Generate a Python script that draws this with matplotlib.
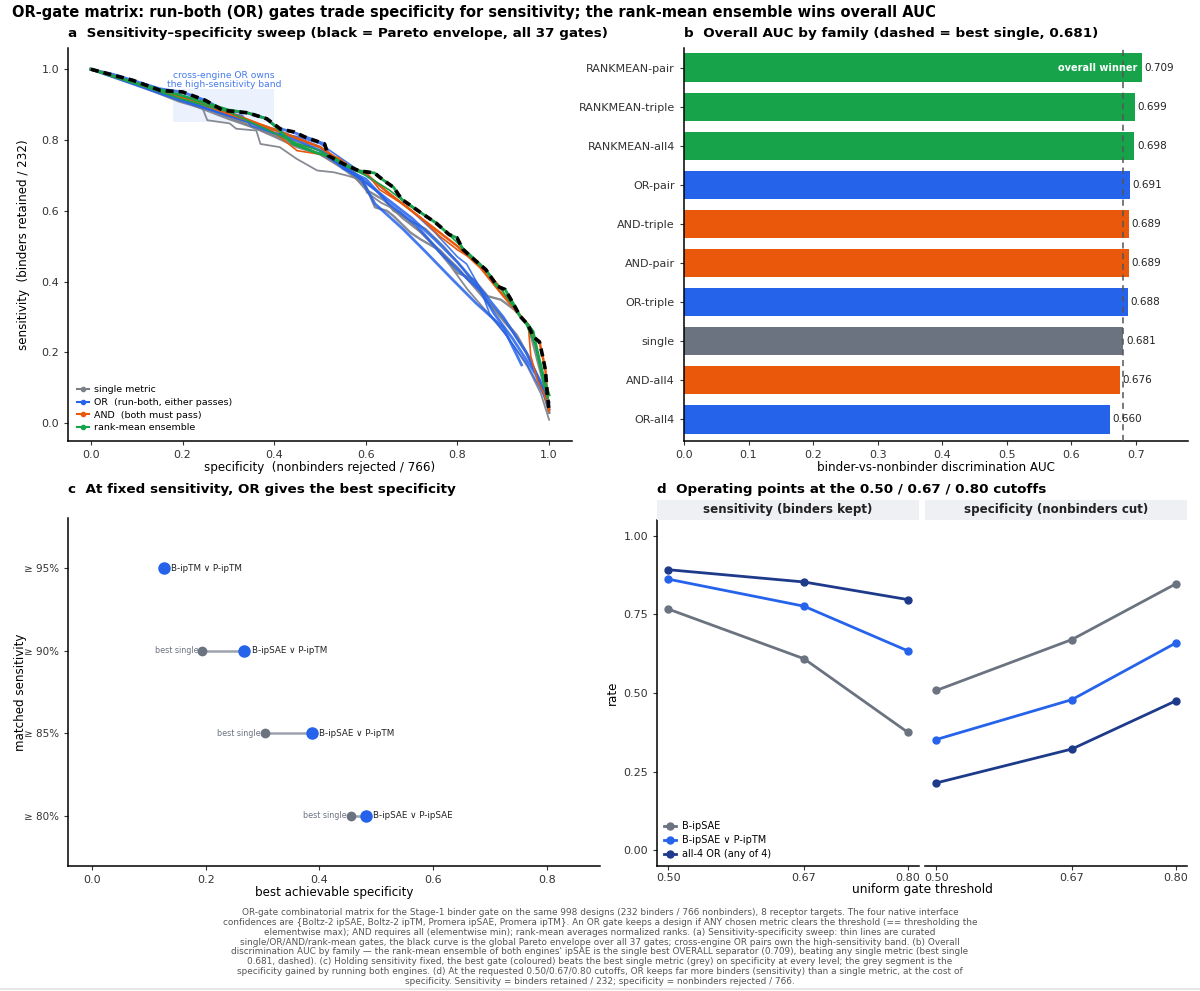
import matplotlib
matplotlib.use("Agg")
import matplotlib.pyplot as plt
from matplotlib.lines import Line2D
from matplotlib.patches import Rectangle

GRAY = "#6b7280"
BLUE = "#2563eb"
ORANGE = "#ea580c"
GREEN = "#16a34a"
NAVY = "#1e3a8a"

# ---- panel a: sensitivity-specificity sweep (spec, sens) ----
single_curves = [
    ([0, .10, .15, .193, .244, .254, .303, .317, .361, .37, .412, .449, .494, .53, .558, .595, .602,
      .632, .675, .705, .749, .785, .822, .866, .909, .953, .982, 1.0],
     [1, .955, .93, .908, .889, .856, .847, .832, .827, .789, .78, .747, .714, .709, .70, .686, .652,
      .624, .596, .558, .501, .444, .378, .312, .245, .16, .084, .01]),
    ([0, .1, .2, .27, .33, .4, .45, .5, .55, .6, .62, .646, .66, .675, .697, .719, .763, .8, .836,
      .866, .895, .924, .954, .97, .99, 1.0],
     [1, .96, .92, .88, .85, .81, .78, .76, .72, .67, .61, .60, .586, .567, .539, .52, .487, .425,
      .406, .359, .349, .321, .278, .2, .1, .03]),
    ([0, .1, .2, .3, .4, .5, .55, .6, .63, .66, .7, .73, .77, .81, .85, .89, .93, .96, .99, 1.0],
     [1, .96, .92, .87, .82, .77, .74, .68, .65, .60, .57, .55, .50, .44, .37, .31, .25, .18, .08, .03]),
    ([0, .1, .2, .3, .4, .5, .56, .6, .64, .68, .72, .76, .8, .84, .88, .92, .95, .98, 1.0],
     [1, .957, .91, .86, .815, .76, .72, .66, .63, .58, .54, .49, .44, .38, .32, .26, .20, .12, .03]),
]
or_curves = [
    ([0, .05, .1, .15, .2, .25, .29, .34, .38, .41, .44, .47, .51, .52, .56, .6, .65, .7, .75, .8,
      .85, .9, .95, .98, 1.0],
     [1, .985, .965, .945, .935, .912, .884, .877, .862, .833, .823, .808, .789, .756, .715, .68,
      .63, .58, .52, .455, .38, .30, .20, .12, .04]),
    ([0, .1, .2, .25, .3, .33, .35, .4, .45, .5, .55, .6, .65, .7, .75, .8, .82, .85, .87, .9, .95,
      .98, 1.0],
     [1, .96, .92, .89, .875, .87, .84, .82, .81, .79, .745, .70, .65, .60, .54, .47, .45, .38, .31,
      .26, .17, .10, .05]),
    ([0, .1, .2, .3, .35, .4, .45, .5, .52, .56, .59, .62, .68, .73, .79, .84, .9, .94],
     [1, .955, .91, .87, .85, .82, .80, .77, .75, .72, .69, .62, .55, .485, .405, .34, .27, .165]),
    ([0, .1, .2, .3, .4, .5, .55, .6, .65, .71, .76, .82, .85, .88, .92, .97, 1.0],
     [1, .96, .915, .87, .83, .78, .72, .69, .62, .56, .485, .41, .375, .31, .24, .14, .06]),
]
and_curves = [
    ([0, .1, .2, .3, .38, .4, .45, .5, .54, .57, .6, .63, .68, .72, .76, .8, .85, .89, .91, .94,
      .955, .96, .975, .99, 1.0],
     [1, .96, .92, .88, .84, .822, .77, .76, .75, .72, .71, .66, .62, .58, .53, .49, .45, .39, .35,
      .30, .27, .19, .12, .08, .04]),
    ([0, .1, .2, .3, .4, .5, .57, .6, .65, .7, .75, .8, .85, .9, .94, .955, .966, .979, .987, .992,
      .996, 1.0],
     [1, .96, .92, .875, .83, .78, .72, .705, .65, .60, .55, .50, .44, .36, .30, .278, .244, .23,
      .183, .15, .083, .036]),
]
rank_curves = [
    ([0, .05, .1, .2, .3, .342, .384, .41, .44, .49, .53, .552, .585, .619, .636, .661, .678, .699,
      .72, .753, .782, .799, .812, .837, .862, .887, .904, .921, .937, .954, .965, .975, .99, 1.0],
     [1, .98, .96, .925, .885, .877, .86, .83, .79, .765, .75, .732, .713, .707, .689, .666, .633,
      .614, .595, .566, .533, .524, .491, .462, .434, .387, .378, .34, .302, .278, .26, .20, .12, .08]),
    ([0, .1, .2, .3, .4, .45, .5, .55, .6, .65, .7, .75, .8, .85, .9, .95, .97, .99, 1.0],
     [1, .958, .915, .88, .82, .79, .77, .73, .70, .66, .61, .57, .51, .45, .37, .28, .22, .10, .06]),
]
pareto_spec = [0, .091, .152, .20, .25, .288, .342, .384, .414, .443, .468, .51, .518, .552, .585,
               .619, .636, .661, .678, .699, .72, .753, .782, .799, .812, .837, .862, .887, .904,
               .921, .937, .954, .966, .979, .987, .992, .996, 1.0]
pareto_sens = [1, .969, .940, .936, .912, .884, .877, .860, .831, .823, .808, .789, .756, .732, .713,
               .707, .689, .666, .633, .614, .595, .566, .533, .524, .491, .462, .434, .387, .378,
               .340, .302, .278, .244, .230, .183, .150, .083, .036]

# ---- panel b: AUC by family ----
families = ["RANKMEAN-pair", "RANKMEAN-triple", "RANKMEAN-all4", "OR-pair", "AND-triple",
            "AND-pair", "OR-triple", "single", "AND-all4", "OR-all4"]
family_auc = [0.709, 0.699, 0.698, 0.691, 0.689, 0.689, 0.688, 0.681, 0.676, 0.660]
best_single_auc = 0.681

# ---- panel c: specificity at matched sensitivity ----
sens_levels = ["≥ 80%", "≥ 85%", "≥ 90%", "≥ 95%"]
single_spec = [0.455, 0.304, 0.194, None]
gate_spec = [0.481, 0.386, 0.268, 0.126]
gate_names = ["B-ipSAE ∨ P-ipSAE", "B-ipSAE ∨ P-ipTM", "B-ipSAE ∨ P-ipTM", "B-ipTM ∨ P-ipTM"]

# ---- panel d: operating points ----
cutoffs = [0.50, 0.67, 0.80]
op_names = ["B-ipSAE", "B-ipSAE ∨ P-ipTM", "all-4 OR (any of 4)"]
op_sens = [[0.767, 0.609, 0.375], [0.862, 0.776, 0.634], [0.892, 0.853, 0.797]]
op_spec = [[0.508, 0.670, 0.847], [0.352, 0.479, 0.659], [0.214, 0.322, 0.475]]

caption = (
    "OR-gate combinatorial matrix for the Stage-1 binder gate on the same 998 designs (232 binders / 766 nonbinders), 8 receptor targets. The four native interface\n"
    "confidences are {Boltz-2 ipSAE, Boltz-2 ipTM, Promera ipSAE, Promera ipTM}. An OR gate keeps a design if ANY chosen metric clears the threshold (== thresholding the\n"
    "elementwise max); AND requires all (elementwise min); rank-mean averages normalized ranks. (a) Sensitivity-specificity sweep: thin lines are curated\n"
    "single/OR/AND/rank-mean gates, the black curve is the global Pareto envelope over all 37 gates; cross-engine OR pairs own the high-sensitivity band. (b) Overall\n"
    "discrimination AUC by family \u2014 the rank-mean ensemble of both engines' ipSAE is the single best OVERALL separator (0.709), beating any single metric (best single\n"
    "0.681, dashed). (c) Holding sensitivity fixed, the best gate (coloured) beats the best single metric (grey) on specificity at every level; the grey segment is the\n"
    "specificity gained by running both engines. (d) At the requested 0.50/0.67/0.80 cutoffs, OR keeps far more binders (sensitivity) than a single metric, at the cost of\n"
    "specificity. Sensitivity = binders retained / 232; specificity = nonbinders rejected / 766."
)

W, H = 1200, 991
fig = plt.figure(figsize=(W / 100, H / 100), dpi=100)


def box(x0, y0, x1, y1):
    return [x0 / W, 1 - y1 / H, (x1 - x0) / W, (y1 - y0) / H]


def style(ax, size=8):
    for s in ("top", "right"):
        ax.spines[s].set_visible(False)
    ax.spines["left"].set_linewidth(1.1)
    ax.spines["bottom"].set_linewidth(1.1)
    ax.tick_params(labelsize=size, length=3, color="#333333", labelcolor="#333333")


fig.text(12 / W, 1 - 13 / H, "OR-gate matrix: run-both (OR) gates trade specificity for sensitivity; "
         "the rank-mean ensemble wins overall AUC", fontsize=10.5, fontweight="bold", va="center")

# ---------------- panel a ----------------
ax = fig.add_axes(box(68, 48, 572, 441))
style(ax)
ax.add_patch(Rectangle((0.18, 0.85), 0.22, 0.095, color="#dbe6fd", alpha=0.55, lw=0, zorder=0))
ax.text(0.29, 0.97, "cross-engine OR owns\nthe high-sensitivity band", color=BLUE, fontsize=6.6,
        ha="center", va="center", alpha=0.85, linespacing=1.0)
for i, (xs, ys) in enumerate(single_curves):
    ax.plot(xs, ys, color="#7b7f88", lw=1.7 if i % 2 else 1.3, alpha=0.9, zorder=2)
for i, (xs, ys) in enumerate(or_curves):
    ax.plot(xs, ys, color=BLUE, lw=2.0 if i != 1 else 1.2, alpha=0.85, zorder=3)
for i, (xs, ys) in enumerate(and_curves):
    ax.plot(xs, ys, color=ORANGE, lw=1.2 if i == 0 else 1.8, zorder=3)
for i, (xs, ys) in enumerate(rank_curves):
    ax.plot(xs, ys, color=GREEN, lw=2.0 if i == 0 else 1.2, zorder=3)
ax.plot(pareto_spec, pareto_sens, color="black", lw=2.6, ls=(0, (2.2, 1.4)), zorder=5)
ax.set_xlim(-0.05, 1.05)
ax.set_ylim(-0.05, 1.06)
ax.set_xticks([0, .2, .4, .6, .8, 1.0])
ax.set_yticks([0, .2, .4, .6, .8, 1.0])
ax.set_xlabel("specificity  (nonbinders rejected / 766)", fontsize=8.6, labelpad=1)
ax.set_ylabel("sensitivity  (binders retained / 232)", fontsize=8.6, labelpad=8)
handles = [Line2D([], [], color=c, marker="o", ms=3, lw=1.5) for c in ("#7b7f88", BLUE, ORANGE, GREEN)]
ax.legend(handles, ["single metric", "OR  (run-both, either passes)", "AND  (both must pass)",
                    "rank-mean ensemble"], loc="lower left", bbox_to_anchor=(0.0, 0.0),
          frameon=False, fontsize=6.8, handlelength=1.3, handletextpad=0.6, labelspacing=0.4)
fig.text(68 / W, 1 - 33 / H, "a  Sensitivity\u2013specificity sweep (black = Pareto envelope, all 37 gates)",
         fontsize=9.7, fontweight="bold", va="center")

# ---------------- panel b ----------------
ax = fig.add_axes(box(684, 48, 1188, 441))
style(ax)
fam_colors = {"RANKMEAN": GREEN, "OR": BLUE, "AND": ORANGE, "single": GRAY}
ypos = list(range(len(families)))
cols = [fam_colors[f.split("-")[0]] for f in families]
ax.barh(ypos, family_auc, height=0.72, color=cols, zorder=2)
ax.axvline(best_single_auc, color="#555555", ls=(0, (4, 3)), lw=1.1, zorder=3)
for y, v in zip(ypos, family_auc):
    ax.text(v + 0.004, y, f"{v:.3f}", va="center", ha="left", fontsize=7.5, color="#222222", zorder=4)
ax.text(family_auc[0] - 0.006, 0, "overall winner", color="white", fontweight="bold",
        fontsize=7, ha="right", va="center", zorder=4)
ax.set_yticks(ypos)
ax.set_yticklabels(families, fontsize=8)
ax.set_ylim(len(families) - 0.45, -0.5)
ax.set_xlim(0, 0.781)
ax.set_xticks([0, .1, .2, .3, .4, .5, .6, .7])
ax.set_xticklabels(["0.0", "0.1", "0.2", "0.3", "0.4", "0.5", "0.6", "0.7"])
ax.set_xlabel("binder-vs-nonbinder discrimination AUC", fontsize=8.6, labelpad=1)
fig.text(684 / W, 1 - 33 / H, "b  Overall AUC by family (dashed = best single, 0.681)",
         fontsize=9.7, fontweight="bold", va="center")

# ---------------- panel c ----------------
ax = fig.add_axes(box(68, 518, 600, 866))
style(ax)
for y, (s, g, name) in enumerate(zip(single_spec, gate_spec, gate_names)):
    if s is not None:
        ax.plot([s, g], [y, y], color="#9ca3af", lw=1.8, zorder=2)
        ax.plot(s, y, "o", color=GRAY, ms=6, zorder=3)
        ax.text(s - 0.007, y, "best single", color=GRAY, fontsize=5.8, ha="right", va="center")
    ax.plot(g, y, "o", color=BLUE, ms=8, zorder=4)
    ax.text(g + 0.013, y, name, color="#222222", fontsize=6.3, ha="left", va="center")
ax.set_yticks(range(len(sens_levels)))
ax.set_yticklabels(sens_levels, fontsize=7.5)
ax.set_ylim(-0.61, 3.61)
ax.set_xlim(-0.042, 0.893)
ax.set_xticks([0, .2, .4, .6, .8])
ax.set_xlabel("best achievable specificity", fontsize=8.6, labelpad=1)
ax.set_ylabel("matched sensitivity", fontsize=8.6)
ax.yaxis.set_label_coords(-0.078, 0.5)
fig.text(68 / W, 1 - 489 / H, "c  At fixed sensitivity, OR gives the best specificity",
         fontsize=9.7, fontweight="bold", va="center")

# ---------------- panel d ----------------
op_colors = [GRAY, BLUE, NAVY]
facets = [("sensitivity (binders kept)", op_sens, 657, 919), ("specificity (nonbinders cut)", op_spec, 925, 1187)]
for k, (title, vals, x0, x1) in enumerate(facets):
    ax = fig.add_axes(box(x0, 520, x1, 866))
    style(ax, 8)
    ax.tick_params(axis="x", pad=2)
    for series, c, name in zip(vals, op_colors, op_names):
        ax.plot(cutoffs, series, color=c, lw=2, marker="o", ms=5, label=name)
    ax.set_xlim(0.486, 0.814)
    ax.set_ylim(-0.05, 1.05)
    ax.set_xticks(cutoffs)
    ax.set_xticklabels(["0.50", "0.67", "0.80"])
    ax.set_yticks([0, .25, .5, .75, 1.0])
    if k == 0:
        ax.set_yticklabels(["0.00", "0.25", "0.50", "0.75", "1.00"])
        ax.set_ylabel("rate", fontsize=8.6, labelpad=3)
        ax.legend(loc="lower left", frameon=False, fontsize=7, handlelength=1.3,
                  handletextpad=0.6, labelspacing=0.4, borderaxespad=0.3)
    else:
        ax.spines["left"].set_visible(False)
        ax.tick_params(axis="y", left=False, labelleft=False)
    fig.add_artist(Rectangle((x0 / W, 1 - 520 / H), (x1 - x0) / W, 20 / H, transform=fig.transFigure,
                             facecolor="#eff0f4", edgecolor="none"))
    fig.text((x0 + x1) / 2 / W, 1 - 510 / H, title, ha="center", va="center", fontsize=8.6,
             fontweight="bold", color="#222222")
fig.text(922 / W, 1 - 890 / H, "uniform gate threshold", ha="center", va="center", fontsize=8.8)
fig.text(657 / W, 1 - 489 / H, "d  Operating points at the 0.50 / 0.67 / 0.80 cutoffs",
         fontsize=9.7, fontweight="bold", va="center")

fig.text(0.5, 1 - 908 / H, caption, ha="center", va="top", fontsize=6.4, color="#555555",
         linespacing=1.12)
fig.add_artist(Line2D([0, 1], [1 - 989 / H, 1 - 989 / H], transform=fig.transFigure,
                      color="#e3e3e3", lw=1.2))

fig.savefig("out.png", dpi=100)
